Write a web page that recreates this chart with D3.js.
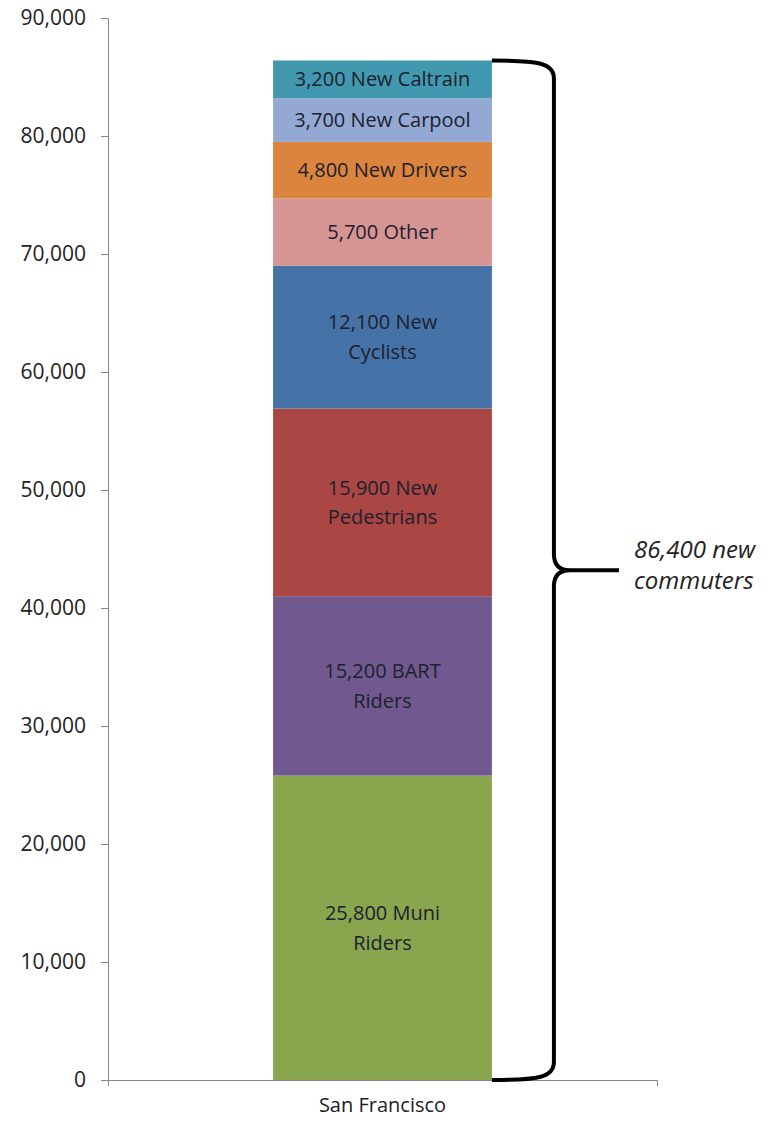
<!DOCTYPE html>
<html>
<head>
<meta charset="utf-8">
<script src="https://cdn.jsdelivr.net/npm/d3@7"></script>
<style>
  body { margin: 0; background: #fff; }
  text { font-family: "Open Sans", sans-serif; }
  .axis path, .axis line { stroke: #868686; }
  .axis text { fill: #222; font-size: 21px; }
</style>
</head>
<body>
<div id="chart-area"></div>
<script>
/*
*    stacked column - new commuters
*/

var width = 769,
    height = 1121;

// Data
var city = ["San Francisco"];
var modes = ["Muni", "BART", "Pedestrians", "Cyclists", "Other", "Drivers", "Carpool", "Caltrain"];
var values = [25800, 15200, 15900, 12100, 5700, 4800, 3700, 3200];
var labels = [
    ["25,800 Muni", "Riders"],
    ["15,200 BART", "Riders"],
    ["15,900 New", "Pedestrians"],
    ["12,100 New", "Cyclists"],
    ["5,700 Other"],
    ["4,800 New Drivers"],
    ["3,700 New Carpool"],
    ["3,200 New Caltrain"]
];
var colors = ["#89a54e", "#71588f", "#aa4643", "#4572a7", "#d69593", "#db843d", "#93a9d4", "#4198af"];
var yTicks = [0, 10000, 20000, 30000, 40000, 50000, 60000, 70000, 80000, 90000];
var braceLabel = ["86,400 new", "commuters"];

var svg = d3.select("#chart-area").append("svg")
    .attr("width", width)
    .attr("height", height);

// Scales
var x = d3.scaleBand().domain(city).range([108, 657]).padding(0.43);
var y = d3.scaleLinear().domain([0, 90000]).range([1080, 18]);

// Stack
var row = { city: city[0] };
modes.forEach(function(m, i){ row[m] = values[i]; });
var stacked = d3.stack().keys(modes)([row]);
var total = d3.sum(values);

// Bars
var seg = svg.selectAll(".seg")
    .data(stacked)
    .enter()
    .append("g")
    .attr("class", "seg");

seg.append("rect")
    .attr("x", x(city[0]))
    .attr("width", x.bandwidth())
    .attr("y", function(d){ return y(d[0][1]); })
    .attr("height", function(d){ return y(d[0][0]) - y(d[0][1]); })
    .attr("fill", function(d, i){ return colors[i]; });

seg.append("text")
    .attr("x", x(city[0]) + x.bandwidth() / 2)
    .attr("y", function(d){ return (y(d[0][0]) + y(d[0][1])) / 2; })
    .attr("text-anchor", "middle")
    .attr("fill", "#1c2130")
    .style("font-size", "20px")
    .each(function(d, i){
        var lines = labels[i];
        var t = d3.select(this);
        lines.forEach(function(l, j){
            t.append("tspan")
                .attr("x", x(city[0]) + x.bandwidth() / 2)
                .attr("dy", j === 0 ? (0.35 - (lines.length - 1) * 0.74) + "em" : "1.48em")
                .text(l);
        });
    });

// Axes
svg.append("g")
    .attr("class", "axis")
    .attr("transform", "translate(108,0)")
    .call(d3.axisLeft(y).tickValues(yTicks).tickFormat(d3.format(",")).tickSizeInner(7).tickSizeOuter(0).tickPadding(15));

var xAxis = svg.append("g")
    .attr("class", "axis")
    .attr("transform", "translate(0,1080)")
    .call(d3.axisBottom(x).tickSizeInner(0).tickSizeOuter(6).tickPadding(18));
xAxis.selectAll("text").style("font-size", "20px");

// Brace
var bx0 = x(city[0]) + x.bandwidth(),
    bx = bx0 + 62,
    yTop = y(total),
    yBot = y(0),
    yMid = y(total / 2),
    tipX = bx + 65;

svg.append("path")
    .attr("d", "M" + bx0 + "," + yTop +
        " C" + (bx0 + 45) + "," + yTop + " " + bx + "," + (yTop + 2) + " " + bx + "," + (yTop + 18) +
        " L" + bx + "," + (yMid - 16) +
        " Q" + bx + "," + yMid + " " + (bx + 16) + "," + yMid +
        " L" + tipX + "," + yMid +
        " M" + (bx + 16) + "," + yMid +
        " Q" + bx + "," + yMid + " " + bx + "," + (yMid + 16) +
        " L" + bx + "," + (yBot - 18) +
        " C" + bx + "," + (yBot - 2) + " " + (bx0 + 45) + "," + yBot + " " + bx0 + "," + yBot)
    .attr("fill", "none")
    .attr("stroke", "#000")
    .attr("stroke-width", 4);

svg.append("text")
    .attr("x", tipX + 15)
    .attr("y", yMid)
    .attr("fill", "#222")
    .style("font-size", "24px")
    .style("font-style", "italic")
    .selectAll("tspan")
    .data(braceLabel)
    .enter()
    .append("tspan")
    .attr("x", tipX + 15)
    .attr("dy", function(d, i){ return i === 0 ? "-0.5em" : "1.3em"; })
    .text(function(d){ return d; });
</script>
</body>
</html>
